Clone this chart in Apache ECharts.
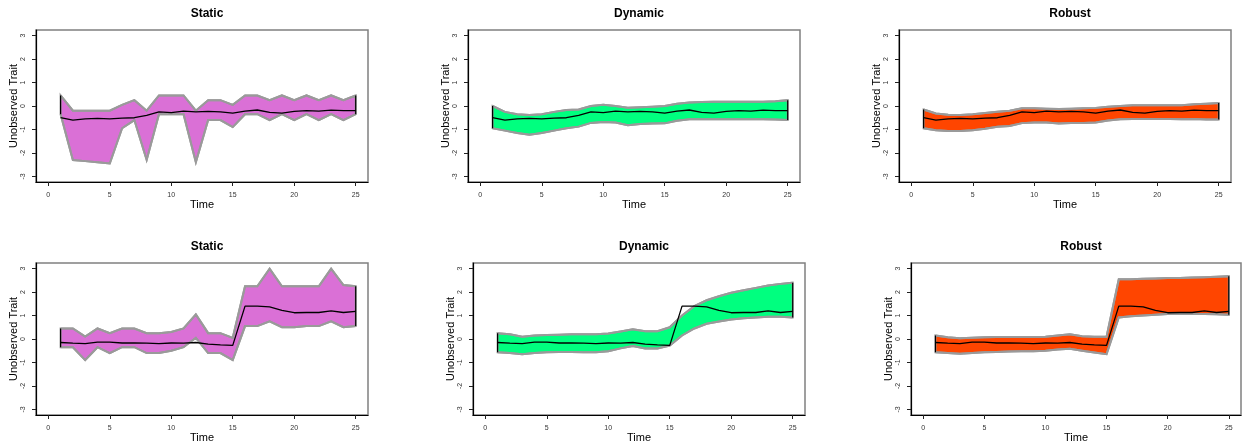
<!DOCTYPE html>
<html><head><meta charset="utf-8">
<script src="https://cdn.jsdelivr.net/npm/echarts@6/dist/echarts.min.js"></script>
<style>html,body{margin:0;padding:0;background:#fff}#c{width:1245px;height:445px}</style>
</head><body><div id="c"></div>
<script>
const time = [1,2,3,4,5,6,7,8,9,10,11,12,13,14,15,16,17,18,19,20,21,22,23,24,25];
const xTicks = [0,5,10,15,20,25];
const yTicks = [-3,-2,-1,0,1,2,3];
const titles = ["Static","Dynamic","Robust","Static","Dynamic","Robust"];

const meanTop = [-0.5,-0.6,-0.55,-0.53,-0.55,-0.52,-0.5,-0.4,-0.25,-0.28,-0.22,-0.25,-0.23,-0.25,-0.3,-0.22,-0.17,-0.27,-0.3,-0.23,-0.2,-0.22,-0.18,-0.2,-0.2];
const meanBot = [-0.15,-0.18,-0.2,-0.13,-0.13,-0.17,-0.17,-0.18,-0.2,-0.17,-0.18,-0.15,-0.22,-0.25,-0.27,1.4,1.4,1.37,1.22,1.12,1.13,1.13,1.2,1.13,1.18];

const staticTopUpper = [0.45,-0.2,-0.2,-0.2,-0.2,0.05,0.25,-0.2,0.45,0.45,0.45,-0.2,0.25,0.25,0.05,0.45,0.45,0.25,0.45,0.25,0.45,0.25,0.45,0.25,0.45];
const staticTopLower = [-0.35,-2.3,-2.35,-2.4,-2.45,-0.95,-0.6,-2.3,-0.35,-0.35,-0.35,-2.4,-0.6,-0.6,-0.9,-0.35,-0.35,-0.6,-0.35,-0.6,-0.35,-0.6,-0.35,-0.6,-0.35];
const dynTopUpper = [0.0,-0.25,-0.35,-0.38,-0.35,-0.25,-0.17,-0.15,0.0,0.05,0.0,-0.07,-0.05,-0.03,0.0,0.1,0.15,0.17,0.18,0.18,0.18,0.18,0.18,0.2,0.25];
const dynTopLower = [-0.95,-1.05,-1.15,-1.22,-1.15,-1.05,-0.95,-0.88,-0.72,-0.68,-0.7,-0.82,-0.77,-0.75,-0.74,-0.63,-0.57,-0.57,-0.57,-0.57,-0.57,-0.57,-0.57,-0.58,-0.6];
const robTopUpper = [-0.15,-0.32,-0.37,-0.38,-0.35,-0.3,-0.25,-0.2,-0.1,-0.1,-0.12,-0.13,-0.12,-0.1,-0.08,-0.03,0.0,0.03,0.03,0.03,0.03,0.03,0.07,0.1,0.13];
const robTopLower = [-0.95,-1.03,-1.07,-1.07,-1.03,-0.97,-0.88,-0.85,-0.73,-0.7,-0.7,-0.75,-0.73,-0.72,-0.7,-0.62,-0.57,-0.55,-0.55,-0.55,-0.55,-0.57,-0.55,-0.58,-0.58];

const staticBotUpper = [0.45,0.45,0.1,0.45,0.25,0.45,0.45,0.25,0.25,0.3,0.45,1.05,0.25,0.25,0.05,2.25,2.25,3.0,2.25,2.25,2.25,2.25,3.0,2.3,2.25];
const staticBotLower = [-0.35,-0.35,-0.9,-0.35,-0.6,-0.35,-0.35,-0.6,-0.6,-0.5,-0.35,0.05,-0.6,-0.6,-0.9,0.55,0.55,0.75,0.5,0.5,0.55,0.55,0.75,0.5,0.55];
const dynBotUpper = [0.25,0.2,0.1,0.15,0.17,0.18,0.2,0.2,0.2,0.23,0.32,0.42,0.33,0.33,0.5,1.0,1.4,1.65,1.82,1.97,2.08,2.18,2.28,2.35,2.4];
const dynBotLower = [-0.57,-0.6,-0.65,-0.6,-0.57,-0.55,-0.55,-0.57,-0.57,-0.52,-0.4,-0.3,-0.4,-0.4,-0.28,0.15,0.45,0.65,0.75,0.83,0.88,0.92,0.95,0.95,0.92];
const robBotUpper = [0.15,0.07,0.03,0.05,0.07,0.08,0.08,0.08,0.08,0.1,0.15,0.2,0.12,0.1,0.1,2.55,2.55,2.57,2.58,2.6,2.6,2.62,2.63,2.65,2.68];
const robBotLower = [-0.57,-0.6,-0.63,-0.6,-0.57,-0.55,-0.53,-0.52,-0.52,-0.5,-0.45,-0.42,-0.5,-0.58,-0.65,0.92,0.97,1.0,1.03,1.07,1.07,1.07,1.07,1.05,1.03];

const panels = [
  {up: staticTopUpper, lo: staticTopLower, mean: meanTop, color:'#DA70D6', left:36, top:30, width:332},
  {up: dynTopUpper, lo: dynTopLower, mean: meanTop, color:'#00FF7F', left:468, top:30, width:332},
  {up: robTopUpper, lo: robTopLower, mean: meanTop, color:'#FF4500', left:899, top:30, width:332},
  {up: staticBotUpper, lo: staticBotLower, mean: meanBot, color:'#DA70D6', left:36, top:263, width:332},
  {up: dynBotUpper, lo: dynBotLower, mean: meanBot, color:'#00FF7F', left:473, top:263, width:332},
  {up: robBotUpper, lo: robBotLower, mean: meanBot, color:'#FF4500', left:911, top:263, width:330}
];
const H = 152;
const font = 'Liberation Sans, Arial, Helvetica, sans-serif';

const option = {backgroundColor:'#fff', animation:false, title:[], grid:[], xAxis:[], yAxis:[], series:[]};
panels.forEach((p,k)=>{
  option.title.push({text:titles[k], left:p.left + p.width/2, top:p.top-27, textAlign:'center',
    textStyle:{fontFamily:font, fontSize:12, fontWeight:'bold', color:'#000'}});
  option.grid.push({left:p.left, top:p.top, width:p.width, height:H, show:true, borderColor:'#808080', borderWidth:1.5, backgroundColor:'#fff', containLabel:false});
  option.xAxis.push({type:'value', gridIndex:k, min:-1, max:26, name:'Time', nameLocation:'middle', nameGap:15,
    nameTextStyle:{fontFamily:font, fontSize:11, color:'#000'},
    axisLine:{show:true, onZero:false, lineStyle:{color:'#000', width:1.2}}, splitLine:{show:false},
    axisTick:{show:true, customValues:xTicks, length:4, lineStyle:{color:'#222'}},
    axisLabel:{customValues:xTicks, fontFamily:font, fontSize:7, color:'#333', margin:10}});
  option.yAxis.push({type:'value', gridIndex:k, min:-3.24, max:3.24, name:'Unobserved Trait', nameLocation:'middle', nameGap:17, nameRotate:90,
    nameTextStyle:{fontFamily:font, fontSize:11, color:'#000'},
    axisLine:{show:true, onZero:false, lineStyle:{color:'#000', width:1.2}}, splitLine:{show:false},
    axisTick:{show:true, customValues:yTicks, length:4, lineStyle:{color:'#222'}},
    axisLabel:{customValues:yTicks, rotate:90, fontFamily:font, fontSize:7, color:'#333', margin:9}});
  const up = p.up, lo = p.lo;
  option.series.push({type:'custom', xAxisIndex:k, yAxisIndex:k, data:[[time[0], up[0]]], clip:false, silent:true, z:2,
    renderItem:function(params, api){
      const pts = [];
      for (let i=0;i<time.length;i++) pts.push(api.coord([time[i], up[i]]));
      for (let i=time.length-1;i>=0;i--) pts.push(api.coord([time[i], lo[i]]));
      const upPts = time.map((t,i)=>api.coord([t, up[i]]));
      const loPts = time.map((t,i)=>api.coord([t, lo[i]]));
      return {type:'group', children:[
        {type:'polygon', shape:{points:pts}, style:{fill:p.color, stroke:'#9a9a9a', lineWidth:2}},
        {type:'polyline', shape:{points:upPts}, style:{stroke:'#9a9a9a', lineWidth:2, fill:null}},
        {type:'polyline', shape:{points:loPts}, style:{stroke:'#9a9a9a', lineWidth:2, fill:null}}
      ]};
    }});
  const n = time.length-1;
  option.series.push({type:'line', xAxisIndex:k, yAxisIndex:k, data:[[time[0], lo[0]],[time[0], up[0]]], symbol:'none', silent:true, z:3,
    lineStyle:{color:'#000', width:1.2}});
  option.series.push({type:'line', xAxisIndex:k, yAxisIndex:k, data:[[time[n], lo[n]],[time[n], up[n]]], symbol:'none', silent:true, z:3,
    lineStyle:{color:'#000', width:1.2}});
  option.series.push({type:'line', xAxisIndex:k, yAxisIndex:k, data:time.map((t,i)=>[t, p.mean[i]]), symbol:'none', silent:true, z:4,
    lineStyle:{color:'#000', width:1.3}});
});
const chart = echarts.init(document.getElementById('c'), null, {renderer:'canvas'});
chart.setOption(option);
</script>
</body></html>
